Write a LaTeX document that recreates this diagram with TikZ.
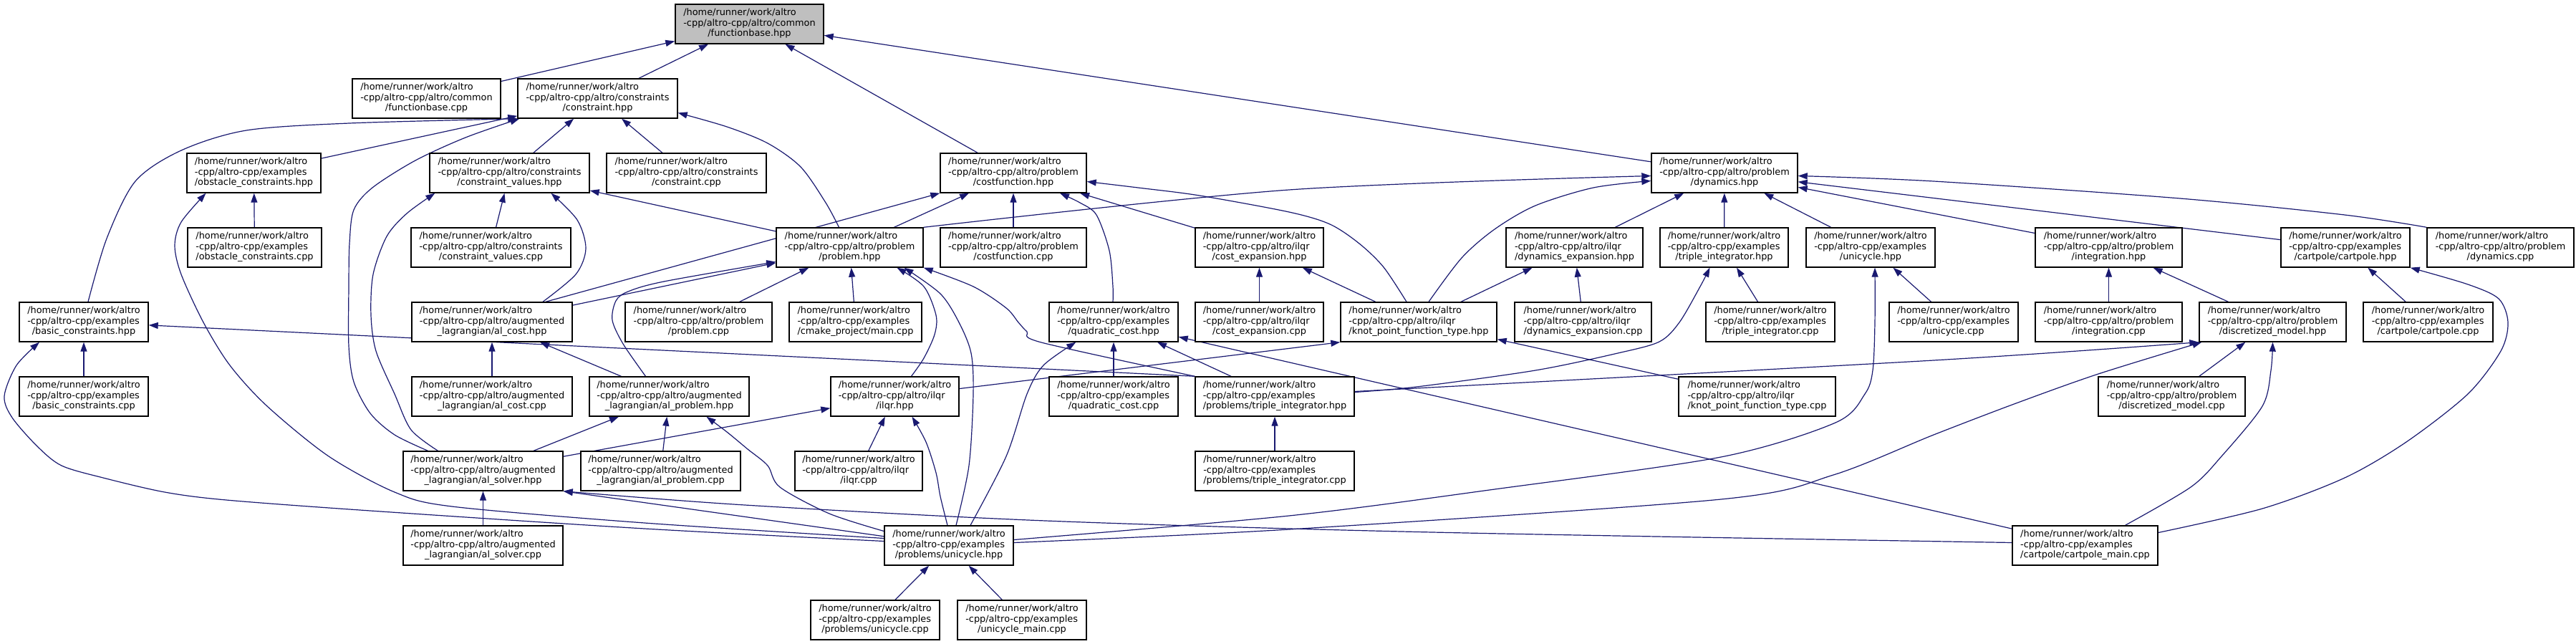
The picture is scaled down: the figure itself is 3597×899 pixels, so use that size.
\documentclass[tikz,border=0pt]{standalone}
\usepackage{fontspec}
\setmainfont{DejaVu Sans}
\usetikzlibrary{arrows.meta,calc}
\definecolor{edgecol}{HTML}{191970}
\definecolor{hlgray}{HTML}{BFBFBF}
\pgfdeclarelayer{bg}
\pgfsetlayers{bg,main}
\tikzset{
  fbox/.style={draw=black, line width=0.7pt, fill=white, inner sep=0pt,
    minimum height=27.5pt, font=\fontsize{6.44pt}{7.25pt}\selectfont},
  dep/.style={draw=edgecol, line width=0.6pt, -{Triangle[length=6.5pt,width=4.5pt]}},
}
\newcommand\filenode[7]{\node[fbox,#1,minimum width={(#4-#3)*0.5pt}] (#2) at ({(#3+#4)/2},#5)
  {\begin{tabular}{@{}l@{}}/home/runner/work/altro\\#6\\\multicolumn{1}{@{}c@{}}{#7}\end{tabular}};}
\newcommand\EX{-cpp/altro-cpp/examples}
\newcommand\PR{-cpp/altro-cpp/altro/problem}
\newcommand\IL{-cpp/altro-cpp/altro/ilqr}
\newcommand\AU{-cpp/altro-cpp/altro/augmented}
\newcommand\CO{-cpp/altro-cpp/altro/constraints}
\begin{document}
\begin{tikzpicture}[x=0.5pt,y=-0.5pt]
\useasboundingbox (0,0) rectangle (3597,899);
% row 0
\filenode{fill=hlgray}{fbh}{943}{1150}{33.5}{-cpp/altro-cpp/altro/common}{/functionbase.hpp}
% row 1
\filenode{}{fbc}{492}{699}{137.5}{-cpp/altro-cpp/altro/common}{/functionbase.cpp}
\filenode{}{con}{723}{946}{137.5}{\CO}{/constraint.hpp}
% row 2
\filenode{}{obsh}{261}{448}{241.5}{\EX}{/obstacle\_constraints.hpp}
\filenode{}{cvh}{600}{823}{241.5}{\CO}{/constraint\_values.hpp}
\filenode{}{conc}{847}{1070}{241.5}{\CO}{/constraint.cpp}
\filenode{}{cfh}{1313}{1517}{241.5}{\PR}{/costfunction.hpp}
\filenode{}{dynh}{2306}{2510}{241.5}{\PR}{/dynamics.hpp}
% row 3
\filenode{}{obsc}{262}{449}{345.5}{\EX}{/obstacle\_constraints.cpp}
\filenode{}{cvc}{574}{797}{345.5}{\CO}{/constraint\_values.cpp}
\filenode{}{probh}{1084}{1289}{345.5}{\PR}{/problem.hpp}
\filenode{}{cfc}{1313}{1517}{345.5}{\PR}{/costfunction.cpp}
\filenode{}{ceh}{1669}{1848}{345.5}{\IL}{/cost\_expansion.hpp}
\filenode{}{deh}{2103}{2294}{345.5}{\IL}{/dynamics\_expansion.hpp}
\filenode{}{tih}{2318}{2497}{345.5}{\EX}{/triple\_integrator.hpp}
\filenode{}{unih}{2522}{2702}{345.5}{\EX}{/unicycle.hpp}
\filenode{}{inth}{2842}{3047}{345.5}{\PR}{/integration.hpp}
\filenode{}{cph}{3185}{3365}{345.5}{\EX}{/cartpole/cartpole.hpp}
\filenode{}{dync}{3389}{3594}{345.5}{\PR}{/dynamics.cpp}
% row 4
\filenode{}{bch}{27}{207}{449.5}{\EX}{/basic\_constraints.hpp}
\filenode{}{alch}{575}{799}{449.5}{\AU}{\_lagrangian/al\_cost.hpp}
\filenode{}{probc}{873}{1078}{449.5}{\PR}{/problem.cpp}
\filenode{}{cmake}{1102}{1287}{449.5}{\EX}{/cmake\_project/main.cpp}
\filenode{}{qch}{1465}{1645}{449.5}{\EX}{/quadratic\_cost.hpp}
\filenode{}{cec}{1669}{1848}{449.5}{\IL}{/cost\_expansion.cpp}
\filenode{}{kph}{1872}{2090}{449.5}{\IL}{/knot\_point\_function\_type.hpp}
\filenode{}{dec}{2115}{2306}{449.5}{\IL}{/dynamics\_expansion.cpp}
\filenode{}{tic}{2382}{2562}{449.5}{\EX}{/triple\_integrator.cpp}
\filenode{}{unic}{2638}{2818}{449.5}{\EX}{/unicycle.cpp}
\filenode{}{intc}{2842}{3047}{449.5}{\PR}{/integration.cpp}
\filenode{}{dmh}{3071}{3276}{449.5}{\PR}{/discretized\_model.hpp}
\filenode{}{cpc}{3300}{3481}{449.5}{\EX}{/cartpole/cartpole.cpp}
% row 5
\filenode{}{bcc}{27}{207}{553.5}{\EX}{/basic\_constraints.cpp}
\filenode{}{alcc}{575}{799}{553.5}{\AU}{\_lagrangian/al\_cost.cpp}
\filenode{}{alph}{823}{1046}{553.5}{\AU}{\_lagrangian/al\_problem.hpp}
\filenode{}{ilqrh}{1160}{1339}{553.5}{\IL}{/ilqr.hpp}
\filenode{}{qcc}{1465}{1645}{553.5}{\EX}{/quadratic\_cost.cpp}
\filenode{}{ptih}{1669}{1891}{553.5}{\EX}{/problems/triple\_integrator.hpp}
\filenode{}{kpc}{2344}{2563}{553.5}{\IL}{/knot\_point\_function\_type.cpp}
\filenode{}{dmc}{2930}{3135}{553.5}{\PR}{/discretized\_model.cpp}
% row 6
\filenode{}{alsh}{563}{786}{657.5}{\AU}{\_lagrangian/al\_solver.hpp}
\filenode{}{alpc}{811}{1034}{657.5}{\AU}{\_lagrangian/al\_problem.cpp}
\filenode{}{ilqrc}{1110}{1288}{657.5}{\IL}{/ilqr.cpp}
\filenode{}{ptic}{1669}{1891}{657.5}{\EX}{/problems/triple\_integrator.cpp}
% row 7
\filenode{}{alsc}{563}{786}{761.5}{\AU}{\_lagrangian/al\_solver.cpp}
\filenode{}{puh}{1235}{1415}{761.5}{\EX}{/problems/unicycle.hpp}
\filenode{}{cpm}{2810}{3013}{761.5}{\EX}{/cartpole/cartpole\_main.cpp}
% row 8
\filenode{}{puc}{1132}{1312}{865.5}{\EX}{/problems/unicycle.cpp}
\filenode{}{um}{1337}{1517}{865.5}{\EX}{/unicycle\_main.cpp}

\begin{pgfonlayer}{bg}
% straight connectors
\draw[dep] (fbc) -- (fbh);
\draw[dep] (con) -- (fbh);
\draw[dep] (cfh) -- (fbh);
\draw[dep] (dynh) -- (fbh);
\draw[dep] (obsh) -- (con);
\draw[dep] (cvh) -- (con);
\draw[dep] (conc) -- (con);
\draw[dep] (obsc) -- (obsh);
\draw[dep] (bcc) -- (bch);
\draw[dep] (ptih.north west) -- (bch);
\draw[dep] (cvc) -- (cvh);
\draw[dep] (probh) -- (cvh);
\draw[dep] (cfc) -- (cfh);
\draw[dep] (ceh) -- (cfh);
\draw[dep] ($(alch.north)+(75,0)$) -- (cfh);
\draw[dep] (probh) -- (cfh);
\draw[dep] (deh) -- (dynh);
\draw[dep] (tih) -- (dynh);
\draw[dep] (unih) -- (dynh);
\draw[dep] (inth) -- (dynh);
\draw[dep] (cph) -- (dynh);
\draw[dep] (alch) -- (probh);
\draw[dep] (probc) -- (probh);
\draw[dep] (cmake) -- (probh);
\draw[dep] (cec) -- (ceh);
\draw[dep] (kph) -- (ceh);
\draw[dep] (kph) -- (deh);
\draw[dep] (dec) -- (deh);
\draw[dep] (tic) -- (tih);
\draw[dep] (unic) -- (unih);
\draw[dep] (intc) -- (inth);
\draw[dep] (dmh) -- (inth);
\draw[dep] (cpc) -- (cph);
\draw[dep] (dmc) -- (dmh);
\draw[dep] (alcc) -- (alch);
\draw[dep] (alph) -- (alch);
\draw[dep] (alpc) -- (alph);
\draw[dep] (alsh) -- (alph);
\draw[dep] (alsh) -- (ilqrh);
\draw[dep] (alsc) -- (alsh);
\draw[dep] (puh) -- (alsh.south east);
\draw[dep] (ilqrc) -- (ilqrh);
\draw[dep] (ilqrh) -- (kph.south west);
\draw[dep] (kpc) -- (kph);
\draw[dep] (qcc) -- (qch);
\draw[dep] (ptih) -- (qch);
\draw[dep] (cpm) -- (qch);
\draw[dep] (ptic) -- (ptih);
\draw[dep] (puc) -- (puh);
\draw[dep] (um) -- (puh);
% curved connectors
\draw[dep] plot[smooth] coordinates {(probh.north east) (1800,265) ($(dynh.west)+(0,4)$)};
\draw[dep] plot[smooth] coordinates {($(ptih.east)+(0,-7)$) (2700,503) (dmh.south west)};
\draw[dep] plot[smooth] coordinates {($(bch.north)+(6,0)$) (149,333) (189,253) (253,210) (344,182) (488,172) (con.south west)};
\draw[dep] plot[smooth] coordinates {($(alsh.north)+(-77,0)$) (551,607) (517,577) (494,533) (487,483) (487,400) (488,340) (494,293) (520,262) (580,224) (650,192) ($(con.south west)+(3,0)$)};
\draw[dep] plot[smooth] coordinates {($(alsh.north)+(-63,0)$) (574,600) (551,550) (525,490) (518,440) (521,383) (540,330) (568,298) ($(cvh.south west)+(8,0)$)};
\draw[dep] plot[smooth] coordinates {($(alch.north)+(71,0)$) (804,383) (818,347) (806,307) ($(cvh.south)+(58,0)$)};
\draw[dep] plot[smooth] coordinates {($(probh.north)+(-15,0)$) (1153,283) (1118,233) (1072,200) (1015,177) ($(con.east)+(0,20)$)};
\draw[dep] plot[smooth] coordinates {($(puh.west)+(0,-10)$) (900,730) (631,707) (551,687) (459,637) (373,567) (321,510) (284,450) (253,383) (244,343) (253,310) ($(obsh.south)+(-67,0)$)};
\draw[dep] plot[smooth] coordinates {($(puh.west)+(0,-6)$) (900,738) (517,713) (316,698) (230,687) (144,667) (86,650) (52,623) (17,583) (6,553) (23,510) ($(bch.south)+(-62,0)$)};
\draw[dep] plot[smooth] coordinates {($(qch.north)+(-1,0)$) (1554,400) (1549,350) (1531,300) (1508,283) ($(cfh.south)+(65,0)$)};
\draw[dep] plot[smooth] coordinates {($(kph.north)+(-17,0)$) (1932,373) (1898,340) (1857,313) (1800,296) (1675,273) (1589,262) ($(cfh.east)+(0,12)$)};
\draw[dep] plot[smooth] coordinates {($(kph.north)+(14,0)$) (2041,360) (2087,320) (2144,287) (2225,262) ($(dynh.west)+(0,11)$)};
\draw[dep] plot[smooth] coordinates {(dync.north west) (3274,300) (3044,277) (2700,253) ($(dynh.east)+(0,4)$)};
\draw[dep] plot[smooth] coordinates {($(alph.north)+(-33,0)$) (870,480) (855,447) (860,420) (877,407) (927,393) ($(probh.west)+(0,20)$)};
\draw[dep] plot[smooth] coordinates {($(ilqrh.north)+(23,0)$) (1290,500) (1305,467) (1307,440) (1290,400) ($(probh.south)+(66,0)$)};
\draw[dep] plot[smooth] coordinates {($(puh.north)+(10,0)$) (1353,650) (1359,550) (1356,493) (1339,450) (1313,410) ($(probh.south)+(76,0)$)};
\draw[dep] plot[smooth] coordinates {(ptih.north west) (1454,478) (1434,463) (1422,450) (1405,430) (1359,400) (probh.south east)};
\draw[dep] plot[smooth] coordinates {($(ptih.east)+(0,-6)$) (1978,540) (2144,517) (2259,493) (2317,477) (2345,450) (2374,400) ($(tih.south)+(-20,0)$)};
\draw[dep] plot[smooth] coordinates {($(puh.east)+(0,-8)$) (1800,720) (2087,683) (2403,638) (2563,590) (2604,550) (2615,517) (2618,450) ($(unih.south)+(6,0)$)};
\draw[dep] plot[smooth] coordinates {($(puh.east)+(0,-4)$) (1800,739) (2403,697) (2560,663) (2700,607) (2815,563) (2930,522) ($(dmh.south west)+(4,0)$)};
\draw[dep] plot[smooth] coordinates {($(cpm.north)+(56,0)$) (3059,680) (3102,637) (3159,567) (3171,517) (dmh.south)};
\draw[dep] plot[smooth] coordinates {($(cpm.east)+(0,-18)$) (3159,710) (3274,667) (3360,617) (3446,550) (3492,490) (3502,450) (3489,417) (3446,397) (cph.south east)};
\draw[dep] plot[smooth] coordinates {($(puh.west)+(0,-20)$) (1158,717) (1089,680) (1072,650) (1044,627) (1015,603) ($(alph.south)+(52,0)$)};
\draw[dep] plot[smooth] coordinates {($(puh.north)+(-2,0)$) (1313,693) (1307,660) (1293,617) ($(ilqrh.south)+(24,0)$)};
\draw[dep] plot[smooth] coordinates {($(puh.north)+(30,0)$) (1405,637) (1434,550) (1457,510) ($(qch.south west)+(38,0)$)};
\draw[dep] plot[smooth] coordinates {($(cpm.west)+(0,-4)$) (2000,743) (1460,727) (1040,705) (alsh.south east)};
\end{pgfonlayer}
\end{tikzpicture}
\end{document}
